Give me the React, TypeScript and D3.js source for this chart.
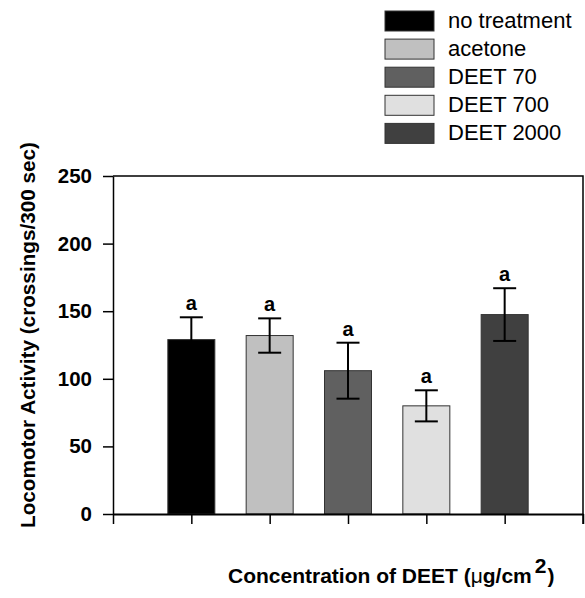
import React, { useEffect, useRef } from 'react';
import * as d3 from 'd3';

const GROUPS = ['no treatment', 'acetone', 'DEET 70', 'DEET 700', 'DEET 2000'];
const MEANS = [129, 132, 106, 80, 147.5];
const ERRORS = [16.5, 12.7, 20.7, 11.5, 19.5];
const LETTERS = ['a', 'a', 'a', 'a', 'a'];
const FILLS = ['#000000', '#c0c0c0', '#606060', '#e0e0e0', '#404040'];
const Y_TICKS = [0, 50, 100, 150, 200, 250];

const App = () => {
  const ref = useRef<SVGSVGElement>(null);

  useEffect(() => {
    const svg = d3.select(ref.current);
    svg.selectAll('*').remove();

    const left = 113;
    const right = 583;
    const top = 176;
    const bottom = 514;
    const font = 'Arial, "Liberation Sans", sans-serif';

    const x = d3.scaleLinear().domain([0, 6]).range([left, right]);
    const y = d3.scaleLinear().domain([0, 250]).range([bottom, top]);
    const barW = (x(1) - x(0)) * 0.6;

    // frame top + right
    svg
      .append('path')
      .attr('d', `M${left},${top}H${right}V${bottom + 10}`)
      .attr('fill', 'none')
      .attr('stroke', '#000')
      .attr('stroke-width', 1.5);

    // bars
    svg
      .selectAll('.bar')
      .data(MEANS)
      .enter()
      .append('rect')
      .attr('x', (d, i) => x(i + 1) - barW / 2)
      .attr('width', barW)
      .attr('y', (d) => y(d))
      .attr('height', (d) => y(0) - y(d))
      .attr('fill', (d, i) => FILLS[i])
      .attr('stroke', '#333')
      .attr('stroke-width', 1);

    // error bars (upper and lower)
    const eb = svg.append('g').attr('stroke', '#000').attr('stroke-width', 2);
    MEANS.forEach((m, i) => {
      const cx = x(i + 1);
      const hi = y(m + ERRORS[i]);
      const lo = y(m - ERRORS[i]);
      eb.append('line').attr('x1', cx).attr('x2', cx).attr('y1', hi).attr('y2', lo);
      eb.append('line').attr('x1', cx - 11.5).attr('x2', cx + 11.5).attr('y1', hi).attr('y2', hi);
      eb.append('line').attr('x1', cx - 11.5).attr('x2', cx + 11.5).attr('y1', lo).attr('y2', lo);
    });

    svg
      .selectAll('.letter')
      .data(LETTERS)
      .enter()
      .append('text')
      .attr('x', (d, i) => x(i + 1))
      .attr('y', (d, i) => y(MEANS[i] + ERRORS[i]) - 7)
      .attr('text-anchor', 'middle')
      .attr('font-family', font)
      .attr('font-weight', 'bold')
      .attr('font-size', 20)
      .text((d) => d);

    // y axis
    const ya = svg
      .append('g')
      .attr('transform', `translate(${left},0)`)
      .call(d3.axisLeft(y).tickValues(Y_TICKS).tickSize(10).tickPadding(11).tickSizeOuter(0));
    ya.select('.domain').attr('stroke-width', 1.5);
    ya.selectAll('line').attr('stroke-width', 1.5);
    ya.selectAll('text')
      .attr('font-family', font)
      .attr('font-weight', 'bold')
      .attr('font-size', 20.5)
      .attr('fill', '#000');

    // x axis
    const xa = svg
      .append('g')
      .attr('transform', `translate(0,${bottom})`)
      .call(d3.axisBottom(x).ticks(6).tickSize(10).tickSizeOuter(0).tickFormat(() => ''));
    xa.select('.domain').attr('stroke-width', 2);
    xa.selectAll('line').attr('stroke-width', 1.5);

    // axis titles
    svg
      .append('text')
      .attr('transform', `translate(35,335) rotate(-90)`)
      .attr('text-anchor', 'middle')
      .attr('font-family', font)
      .attr('font-weight', 'bold')
      .attr('font-size', 20)
      .attr('textLength', 386)
      .attr('lengthAdjust', 'spacingAndGlyphs')
      .text('Locomotor Activity (crossings/300 sec)');

    const xt = svg
      .append('text')
      .attr('x', 228)
      .attr('y', 583)
      .attr('font-family', font)
      .attr('font-weight', 'bold')
      .attr('font-size', 21);
    xt.append('tspan').text('Concentration of DEET (');
    xt.append('tspan').attr('font-weight', 'normal').text('μ');
    xt.append('tspan').text('g/cm');
    xt.append('tspan').attr('dy', -10).attr('dx', 3).text('2');
    xt.append('tspan').attr('dy', 10).attr('dx', 1).text(')');

    // legend
    const lg = svg
      .selectAll('.lg')
      .data(GROUPS)
      .enter()
      .append('g')
      .attr('transform', (d, i) => `translate(385,${11 + i * 28.1})`);
    lg.append('rect')
      .attr('width', 49)
      .attr('height', 20)
      .attr('fill', (d, i) => FILLS[i])
      .attr('stroke', '#333')
      .attr('stroke-width', 1);
    lg.append('text')
      .attr('x', 63)
      .attr('y', 17)
      .attr('font-family', font)
      .attr('font-size', 22)
      .text((d) => d);
  }, []);

  return <svg ref={ref} width={585} height={598} style={{ position: 'absolute', left: 0, top: 0, background: '#fff' }} />;
};

export default App;
